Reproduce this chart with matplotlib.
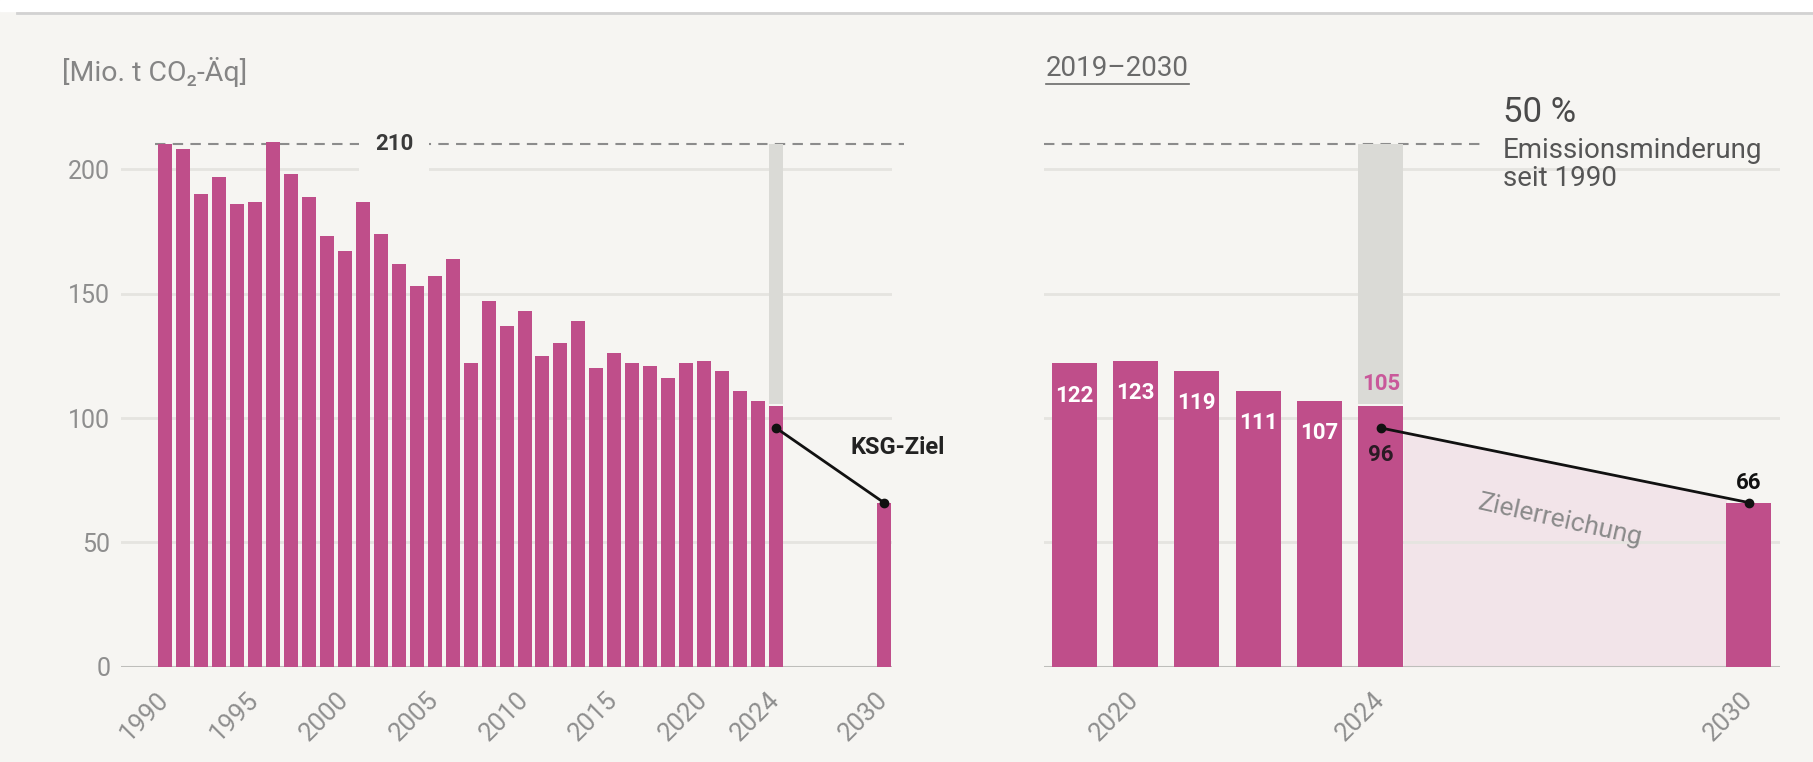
import numpy as np
import matplotlib.pyplot as plt
from matplotlib.lines import Line2D
from matplotlib.patches import Rectangle

plt.rcParams['font.family'] = ['Roboto', 'DejaVu Sans']

# emissions in Mio. t CO2-Aeq
years = list(range(1990, 2025))
emissions = [210, 208, 190, 197, 186, 187, 211, 198, 189, 173,
             167, 187, 174, 162, 153, 157, 164, 122, 147, 137,
             143, 125, 130, 139, 120, 126, 122, 121, 116, 122,
             123, 119, 111, 107, 105]
base_value = 210
target_years = [2024, 2030]
target_values = [96, 66]

zoom_years = years[-6:]
zoom_values = emissions[-6:]

left_ticks = [1990, 1995, 2000, 2005, 2010, 2015, 2020, 2024, 2030]
right_ticks = [2020, 2024, 2030]
y_ticks = [0, 50, 100, 150, 200]

BG = "#F6F5F2"
MAGENTA = "#BF4E8A"
GREY_BAR = "#DADAD6"
GRID = "#E5E4E0"
TICK = "#8E8E8E"
W, H = 1813, 762

fig = plt.figure(figsize=(W / 100, H / 100), dpi=100, facecolor=BG)
fig.patches.append(Rectangle((0, 1 - 11 / H), 1, 11 / H, transform=fig.transFigure,
                             color="white", zorder=0))
fig.add_artist(Line2D([17 / W, 1], [1 - 12.5 / H] * 2, color="#D2D2D2", lw=2))

bottom = 1 - 666.7 / H
height = 220 * 2.487 / H
ax1 = fig.add_axes([121.4 / W, bottom, (891.7 - 121.4) / W, height])
ax2 = fig.add_axes([1044 / W, bottom, (1780 - 1044) / W, height])

for ax in (ax1, ax2):
    ax.set_facecolor("none")
    for s in ax.spines.values():
        s.set_visible(False)
    ax.set_ylim(0, 220)
    for v in y_ticks[1:]:
        ax.axhline(v, color=GRID, lw=2, zorder=0.5)
    ax.axhline(0, color="#BEBEBB", lw=2.2, zorder=0.6)
    ax.tick_params(length=0)

# ---- left panel: 1990-2030
ax1.set_xlim(1987.56, 2030.44)
bw1 = 0.78
ax1.bar(years, emissions, width=bw1, color=MAGENTA, zorder=2)
ax1.bar(target_years[-1], target_values[-1], width=bw1, color=MAGENTA, zorder=2)
ax1.bar(years[-1], base_value - emissions[-1] - 0.8, bottom=emissions[-1] + 0.8,
        width=bw1, color=GREY_BAR, zorder=2)
ax1.plot([years[0] - bw1 / 2 - 0.2, 2031.1], [base_value] * 2, color="#8C8C8C",
         lw=1.5, ls=(0, (5, 3.5)), zorder=1, clip_on=False)
ax1.text(2002.73, base_value, "210", ha="center", va="center", fontsize=16,
         fontweight="bold", color="#3A3A3A", zorder=3,
         bbox=dict(boxstyle="square,pad=0.7", fc=BG, ec="none"))
ax1.plot(target_years, target_values, color="#111111", lw=2, marker="o",
         markersize=6, zorder=4, clip_on=False)
ax1.text(2028.12, 88.3, "KSG-Ziel", ha="left", va="center", fontsize=17,
         fontweight="bold", color="#222222", zorder=4)

ax1.set_yticks(y_ticks)
ax1.set_yticklabels([str(v) for v in y_ticks], fontsize=18, color=TICK)
ax1.tick_params(axis="y", pad=8)
ax1.set_xticks(left_ticks)
ax1.set_xticklabels([str(v) for v in left_ticks], rotation=45, ha="right",
                    va="center", rotation_mode="anchor", fontsize=18.5, color=TICK)
ax1.tick_params(axis="x", pad=21)

# ---- right panel: 2019-2030
ax2.set_xlim(2018.51, 2030.51)
bw2 = 0.734
xs = np.array([target_years[0] + bw2 / 2, target_years[1] - bw2 / 2])
ax2.fill_between(xs, 0, np.interp(xs, target_years, target_values),
                 color="#F2E4E9", lw=0, zorder=0.2)
ax2.bar(zoom_years, zoom_values, width=bw2, color=MAGENTA, zorder=2)
ax2.bar(target_years[-1], target_values[-1], width=bw2, color=MAGENTA, zorder=2)
ax2.bar(zoom_years[-1], base_value - zoom_values[-1] - 0.8, bottom=zoom_values[-1] + 0.8,
        width=bw2, color=GREY_BAR, zorder=2)
ax2.plot([2018.51, 2025.67], [base_value] * 2, color="#8C8C8C", lw=1.5,
         ls=(0, (5, 3.5)), zorder=1, clip_on=False)
for x, v in zip(zoom_years[:-1], zoom_values[:-1]):
    ax2.text(x, v - 13, str(v), ha="center", va="center", fontsize=16,
             fontweight="bold", color="white", zorder=3)
ax2.text(zoom_years[-1], zoom_values[-1] + 8.5, str(zoom_values[-1]), ha="center",
         va="center", fontsize=16, fontweight="bold", color="#C9589A", zorder=3)
ax2.plot(target_years, target_values, color="#111111", lw=2, marker="o",
         markersize=6, zorder=4, clip_on=False)
ax2.text(target_years[0], target_values[0] - 11, str(target_values[0]), ha="center",
         va="center", fontsize=16, fontweight="bold", color="#2A1A24", zorder=4)
ax2.text(target_years[1], target_values[1] + 8, str(target_values[1]), ha="center",
         va="center", fontsize=16, fontweight="bold", color="#111111", zorder=4)
ax2.text(2026.93, 59, "Zielerreichung", ha="center", va="center", fontsize=19,
         color="#8A8A8A", rotation=-12.5, rotation_mode="anchor", zorder=3)

ax2.set_yticks(y_ticks)
ax2.set_yticklabels([])
ax2.set_xticks(right_ticks)
ax2.set_xticklabels([str(v) for v in right_ticks], rotation=45, ha="right",
                    va="center", rotation_mode="anchor", fontsize=18.5, color=TICK)
ax2.tick_params(axis="x", pad=21)

# ---- header texts
fig.text(62 / W, 1 - 72 / H, "[Mio. t CO\u2082-\u00c4q]", ha="left", va="center",
         fontsize=20.5, color="#858585")
t = fig.text(1046 / W, 1 - 68 / H, "2019\u20132030", ha="left", va="center",
             fontsize=20, color="#6A6A6A")
fig.text(1503 / W, 1 - 113 / H, "50 %", ha="left", va="center", fontsize=25,
         color="#4A4A4A")
fig.text(1503 / W, 1 - 150 / H, "Emissionsminderung", ha="left", va="center",
         fontsize=20, color="#555555")
fig.text(1503 / W, 1 - 179 / H, "seit 1990", ha="left", va="center",
         fontsize=20, color="#555555")

fig.canvas.draw()
bb = t.get_window_extent().transformed(fig.transFigure.inverted())
fig.add_artist(Line2D([bb.x0, bb.x1], [bb.y0 - 2 / H] * 2, color="#6A6A6A", lw=1.2))

fig.savefig("out.png", dpi=100, facecolor=BG)
